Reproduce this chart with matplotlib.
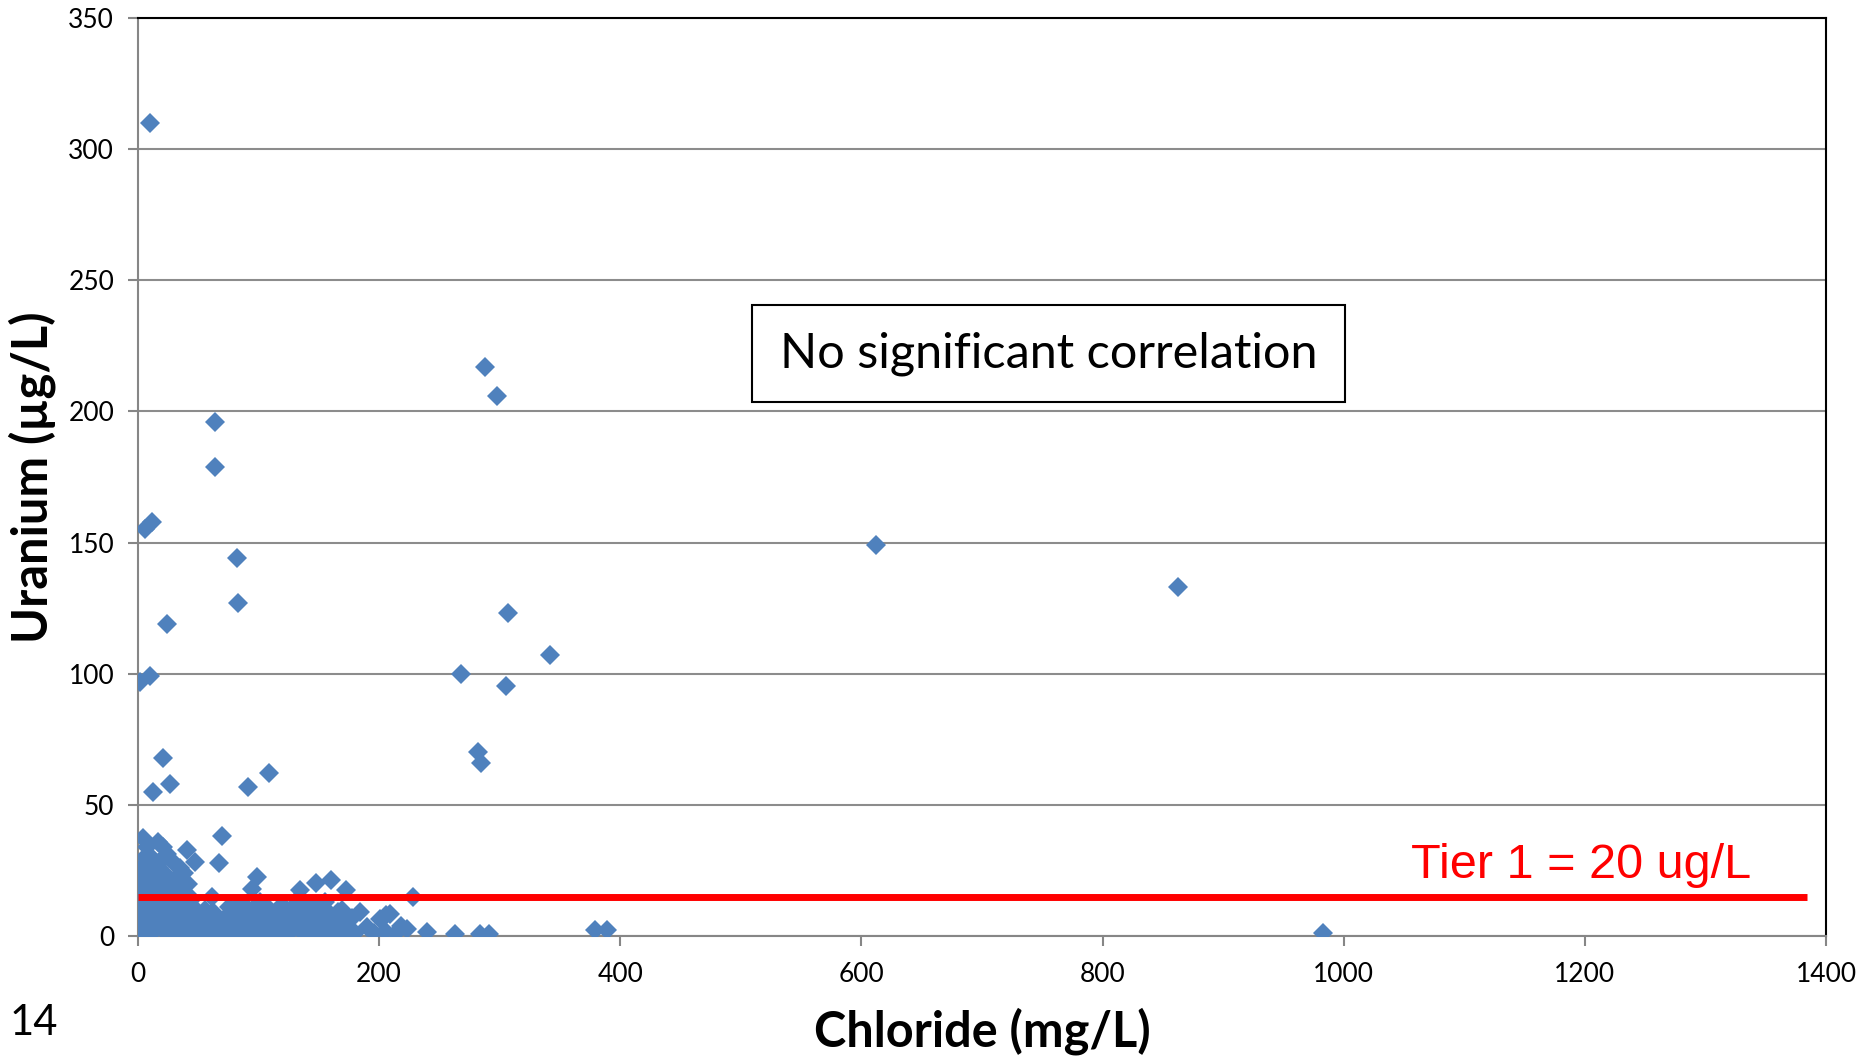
import matplotlib.pyplot as plt
from matplotlib.patches import Rectangle

plt.rcParams['font.family'] = ['Lato', 'DejaVu Sans']

# outlying samples
out_cl = [10, 288, 298, 64, 64, 6, 12, 82, 83, 612, 863, 307, 24, 342, 268,
          2, 10, 305, 282, 285, 21, 27, 13, 91, 109]
out_u = [310, 217, 206, 196, 179, 155, 158, 144, 127, 149, 133, 123, 119, 107, 100,
         97, 99, 95.5, 70, 66, 68, 58, 55, 57, 62]

# low-concentration cluster
low_cl = [1, 2, 3, 1, 2, 4, 1, 3, 2, 5, 6, 5, 7, 8, 6, 9, 8, 10, 7, 11, 12, 9, 4.6, 7.4,
          12, 14, 13, 15, 16, 14, 17, 15, 18, 17, 21, 24, 20, 22, 25, 24, 20, 23, 19, 21,
          22, 27, 28, 26, 29, 30, 28, 31, 33, 35, 30, 40.6, 47.5, 38, 42, 36, 40, 37, 34,
          38, 33, 41, 44, 46, 43, 45,
          50, 52, 55, 58, 60, 62, 64, 66, 68, 70, 72, 75, 77, 80, 82, 84, 86, 88, 90, 92,
          95, 97, 99, 101, 103, 105, 107, 110, 112, 114, 116, 118, 120, 122, 125, 127, 129,
          131, 133, 135, 137, 139, 141, 143, 145, 147, 149, 151, 153, 155, 157, 160, 162,
          164, 166, 168, 170, 172, 175, 178, 180, 184, 190, 196, 200.5, 205, 209, 214, 218,
          223, 239.5, 228.5, 206, 263, 284, 291, 379, 389, 983,
          61.3, 70, 67.4, 98.6, 94.5, 148, 160, 134.5, 173, 82, 56, 76, 108, 126, 142,
          158, 169, 115, 88, 48, 32, 18, 5]
low_u = [1, 3, 6, 9, 12, 15, 18, 21, 24, 27, 30, 2, 5, 8, 11, 14, 17, 19, 22, 25, 28, 31,
         37.5, 34,
         1, 4, 7, 10, 13, 16, 20, 23, 26, 36, 34, 31.4, 29, 24, 21, 18, 14, 11, 8, 5,
         2, 1, 4, 7, 10, 13, 16, 19, 23, 26, 28, 32.7, 28.2, 24, 20, 16, 12, 9, 6,
         3, 1, 0.5, 3, 6, 9, 14,
         1, 4, 7, 2, 5, 9, 1, 3, 6, 0.5, 4, 8, 2, 5, 11, 1, 3, 7, 2, 5,
         9, 1, 4, 13, 7, 2, 5, 10, 1, 4, 7, 2, 12, 5, 1, 8, 3,
         6, 14, 2, 9, 4, 1, 7, 11, 3, 5, 1, 8, 13, 3, 6, 1,
         4, 9, 2, 5, 1, 3, 7, 1, 9.2, 3.5, 1, 6.6, 2, 8.5, 1, 4,
         2.8, 1.5, 14.9, 7.9, 0.7, 0.7, 0.7, 2.4, 2.4, 1,
         14.9, 38, 27.9, 22.5, 18, 20.2, 21.2, 17.7, 17.4, 11, 10, 11, 9, 10, 12,
         9, 10, 8, 12, 10, 9, 8, 10]

chloride = out_cl + low_cl
uranium = out_u + low_u

tier1_level = 15
tier1_label = 'Tier 1 = 20 ug/L'

fig = plt.figure(figsize=(18.62, 10.56), dpi=100)
ax = fig.add_axes([0.074, 0.1136, 0.9067, 0.8694])

ax.plot(chloride, uranium, 'D', color='#4F81BD', markersize=10.5,
        markeredgewidth=0, zorder=3)

ax.hlines(tier1_level, 0, 1384, color='#FF0000', lw=5, zorder=4)
ax.text(0.754, 0.063, tier1_label, color='#FF0000', fontsize=35,
        family=['Liberation Sans', 'DejaVu Sans'], ha='left', va='baseline',
        transform=ax.transAxes, zorder=5)

ax.set_xlim(0, 1400)
ax.set_ylim(0, 350)
ax.set_xticks(range(0, 1401, 200))
ax.set_yticks(range(0, 351, 50))
ax.yaxis.grid(True, color='#8C8C8C', lw=1.5)
ax.set_axisbelow(True)

for s in ['left', 'bottom']:
    ax.spines[s].set_color('#868686')
    ax.spines[s].set_linewidth(1.5)
for s in ['top', 'right']:
    ax.spines[s].set_color('black')
    ax.spines[s].set_linewidth(1.5)
ax.tick_params(axis='both', direction='out', length=7, width=1.5, color='#868686',
               labelsize=19)
ax.tick_params(axis='x', pad=12)
ax.tick_params(axis='y', pad=10)

ax.set_xlabel('Chloride (mg/L)', fontsize=35, fontweight='bold', labelpad=14)
ax.set_ylabel('Uranium (µg/L)', fontsize=35, fontweight='bold')
ax.yaxis.set_label_coords(-0.0485, 0.5)

# annotation box
ax.add_patch(Rectangle((0.3636, 0.5821), 0.3515, 0.1049, transform=ax.transAxes,
                       facecolor='white', edgecolor='black', lw=1.5, zorder=6))
ax.text(0.5394, 0.6345, 'No significant correlation', transform=ax.transAxes,
        fontsize=35, ha='center', va='center', zorder=7)

fig.text(0.005, 0.02, '14', fontsize=30, ha='left', va='baseline')

fig.savefig('out.png', dpi=100)
